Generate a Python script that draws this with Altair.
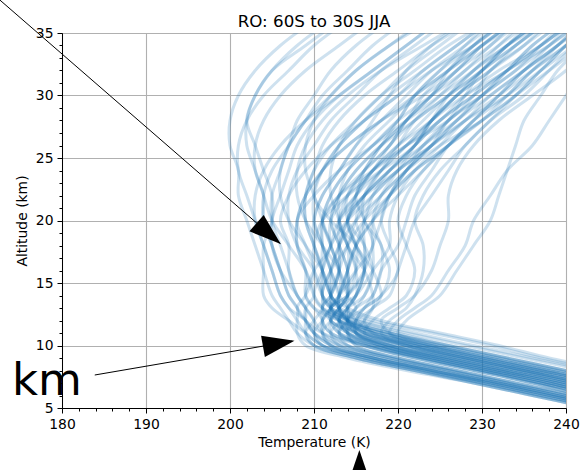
import altair as alt
import pandas as pd

# Altitude levels (km) shared by all profiles
ALT = [5, 6, 7, 8, 9, 10, 11, 12, 13, 14, 16, 18, 20, 22, 24, 26, 28, 30, 32, 34, 36]

# Temperature profiles (K), one list per radio-occultation profile
A1 = [262, 257, 251, 245, 238, 232, 225, 218, 214, 212, 213, 214, 216, 219, 222, 226, 229, 233, 236, 240, 244]
A2 = [260, 255, 249, 243, 236, 229, 222, 216, 212, 211, 212, 214, 215, 217, 220, 224, 228, 231, 235, 239, 243]
A3 = [258, 253, 247, 240, 233, 226, 219, 214, 211, 212, 213, 213, 214, 216, 219, 222, 225, 229, 233, 237, 241]
A4 = [257, 251, 245, 238, 231, 224, 217, 213, 212, 213, 215, 214, 213, 215, 218, 221, 224, 227, 231, 235, 238]
A5 = [259, 254, 248, 242, 235, 228, 221, 215, 211, 210, 211, 212, 213, 216, 220, 223, 227, 230, 233, 236, 240]
A6 = [256, 250, 244, 237, 230, 223, 216, 212, 213, 214, 216, 217, 218, 219, 221, 224, 226, 230, 234, 238, 242]
A7 = [261, 256, 250, 244, 237, 231, 224, 217, 213, 211, 212, 213, 215, 218, 221, 225, 230, 234, 238, 242, 246]
A8 = [255, 249, 243, 236, 229, 222, 215, 212, 212, 214, 215, 215, 214, 216, 219, 222, 224, 227, 230, 233, 236]
B1 = [254, 248, 242, 235, 228, 221, 215, 213, 214, 215, 216, 216, 215, 216, 218, 220, 222, 225, 228, 232, 236]
B2 = [252, 246, 240, 233, 226, 219, 214, 213, 214, 216, 217, 216, 214, 214, 216, 219, 221, 224, 227, 231, 234]
B3 = [250, 244, 238, 231, 224, 218, 215, 216, 217, 217, 216, 214, 213, 214, 216, 218, 221, 223, 226, 229, 232]
B4 = [253, 247, 241, 234, 227, 220, 215, 215, 216, 218, 219, 218, 217, 218, 220, 222, 224, 227, 231, 234, 238]
B5 = [249, 243, 237, 230, 223, 217, 214, 214, 215, 214, 213, 212, 211, 212, 214, 217, 220, 222, 225, 228, 231]
B6 = [251, 245, 239, 232, 225, 218, 213, 212, 213, 214, 214, 213, 212, 213, 215, 218, 222, 226, 230, 233, 237]
B7 = [248, 242, 236, 229, 222, 216, 213, 214, 216, 218, 220, 219, 218, 219, 221, 224, 227, 230, 234, 237, 240]
B8 = [254, 249, 243, 236, 229, 222, 216, 214, 215, 217, 218, 220, 221, 222, 224, 226, 229, 232, 235, 238, 241]
B9 = [250, 244, 238, 231, 224, 217, 212, 211, 212, 213, 212, 211, 211, 213, 216, 219, 221, 224, 226, 229, 233]
B10 = [252, 246, 240, 233, 226, 219, 214, 212, 211, 212, 213, 213, 213, 215, 217, 220, 223, 226, 229, 232, 235]
C1 = [244, 237, 230, 222, 215, 210, 209, 210, 211, 211, 210, 208, 207, 207, 208, 210, 212, 215, 218, 222, 226]
C2 = [246, 239, 232, 225, 218, 213, 212, 213, 213, 212, 211, 210, 209, 209, 210, 212, 215, 218, 221, 225, 229]
C3 = [243, 236, 229, 221, 214, 209, 208, 208, 208, 207, 206, 205, 204, 204, 205, 207, 209, 212, 215, 219, 223]
C4 = [247, 240, 233, 226, 219, 214, 213, 214, 214, 213, 212, 211, 210, 211, 213, 215, 218, 221, 224, 228, 232]
C5 = [245, 238, 231, 223, 216, 211, 210, 210, 209, 208, 207, 206, 205, 205, 206, 207, 209, 211, 214, 217, 221]
C6 = [248, 241, 234, 227, 220, 215, 214, 214, 213, 212, 211, 211, 211, 212, 214, 217, 220, 224, 228, 231, 235]
C7 = [244, 237, 230, 223, 216, 211, 210, 211, 212, 212, 211, 209, 207, 206, 206, 207, 208, 210, 212, 215, 219]
C8 = [246, 239, 232, 224, 217, 212, 211, 212, 213, 214, 214, 213, 212, 213, 215, 218, 221, 224, 227, 230, 234]
D1 = [243, 236, 229, 222, 215, 210, 208, 207, 206, 205, 204, 203, 202, 201, 201, 200, 200, 201, 203, 206, 210]
D2 = [245, 238, 231, 224, 217, 212, 210, 209, 208, 207, 206, 205, 204, 204, 203, 203, 204, 206, 209, 213, 217]
D3 = [244, 237, 230, 223, 216, 211, 209, 208, 207, 206, 205, 204, 203, 202, 201, 201, 202, 204, 207, 210, 214]
D4 = [246, 239, 232, 224, 217, 211, 209, 207, 205, 204, 204, 204, 205, 205, 204, 203, 202, 203, 205, 208, 212]
E1 = [253, 247, 241, 234, 227, 221, 218, 219, 221, 222, 223, 223, 222, 223, 225, 228, 231, 235, 238, 241, 244]
E2 = [255, 249, 243, 236, 229, 223, 219, 218, 220, 222, 224, 225, 226, 226, 227, 229, 232, 236, 240, 243, 246]
E3 = [251, 245, 239, 232, 225, 219, 216, 217, 219, 221, 222, 221, 220, 221, 223, 226, 230, 234, 237, 240, 243]
F1 = [257, 252, 246, 239, 232, 225, 218, 213, 210, 209, 210, 212, 211, 213, 217, 221, 225, 228, 232, 237, 241]
F2 = [253, 247, 241, 235, 228, 221, 216, 214, 213, 213, 215, 217, 216, 215, 217, 221, 226, 229, 231, 235, 239]
F3 = [249, 243, 237, 230, 223, 217, 213, 212, 212, 214, 216, 215, 212, 210, 211, 214, 218, 223, 227, 230, 234]
F4 = [247, 241, 234, 227, 220, 215, 214, 215, 217, 218, 217, 215, 214, 216, 219, 223, 226, 228, 230, 233, 237]
F5 = [245, 238, 231, 224, 217, 212, 211, 211, 210, 209, 209, 208, 208, 209, 211, 213, 216, 220, 223, 227, 231]
F6 = [256, 251, 245, 238, 231, 224, 218, 214, 213, 215, 217, 219, 219, 220, 222, 225, 228, 232, 236, 240, 243]
F7 = [251, 245, 239, 232, 225, 219, 215, 213, 212, 211, 210, 210, 211, 214, 218, 222, 224, 226, 229, 233, 238]
F8 = [258, 252, 246, 239, 232, 225, 219, 214, 212, 212, 213, 212, 212, 214, 217, 219, 222, 226, 230, 234, 238]
F9 = [246, 240, 233, 226, 219, 214, 212, 212, 213, 214, 213, 211, 209, 208, 208, 209, 211, 214, 218, 223, 228]
F10 = [250, 244, 238, 231, 224, 218, 215, 215, 216, 217, 218, 218, 216, 216, 218, 221, 224, 228, 233, 237, 241]
F11 = [254, 248, 242, 235, 228, 222, 217, 215, 214, 214, 214, 215, 217, 219, 221, 223, 226, 230, 233, 236, 240]
F12 = [243, 236, 229, 222, 215, 210, 209, 209, 209, 208, 206, 205, 205, 206, 207, 208, 210, 213, 217, 221, 225]
F13 = [259, 253, 247, 240, 233, 226, 220, 215, 212, 211, 211, 212, 214, 217, 220, 224, 227, 231, 235, 239, 242]
F14 = [252, 246, 240, 233, 226, 220, 216, 214, 213, 212, 212, 213, 214, 215, 216, 218, 220, 222, 225, 229, 233]
F15 = [248, 242, 236, 229, 222, 216, 213, 213, 214, 215, 215, 214, 213, 213, 214, 216, 219, 222, 226, 230, 235]
G1 = [250, 244, 237, 230, 223, 216, 211, 209, 208, 209, 210, 209, 208, 210, 213, 217, 221, 225, 229, 233, 237]
G2 = [256, 250, 244, 237, 230, 223, 217, 213, 211, 210, 209, 208, 208, 209, 211, 214, 218, 222, 226, 230, 234]
G3 = [247, 241, 234, 227, 220, 214, 211, 210, 209, 208, 207, 207, 206, 207, 209, 212, 216, 220, 224, 229, 233]
G4 = [253, 247, 241, 234, 227, 221, 217, 216, 217, 219, 220, 221, 222, 224, 226, 228, 231, 234, 237, 240, 243]
G5 = [249, 243, 237, 230, 223, 217, 214, 213, 213, 212, 211, 210, 210, 211, 213, 215, 217, 219, 221, 224, 228]
G6 = [255, 250, 244, 237, 230, 223, 217, 214, 214, 215, 216, 216, 216, 218, 221, 224, 228, 233, 237, 241, 245]
G7 = [244, 238, 231, 224, 217, 212, 210, 209, 207, 206, 205, 204, 203, 203, 204, 206, 209, 213, 217, 221, 225]
G8 = [251, 245, 239, 232, 225, 218, 214, 213, 213, 213, 214, 214, 213, 212, 212, 213, 215, 218, 222, 226, 231]
G9 = [258, 253, 247, 240, 233, 226, 219, 214, 212, 213, 214, 215, 216, 217, 219, 222, 225, 229, 233, 238, 242]
G10 = [246, 240, 233, 226, 219, 213, 210, 209, 209, 210, 209, 207, 205, 204, 203, 202, 202, 203, 205, 209, 213]
G11 = [252, 246, 240, 233, 226, 219, 215, 214, 215, 216, 217, 217, 217, 219, 222, 226, 230, 233, 236, 239, 242]
G12 = [248, 242, 236, 229, 222, 216, 212, 211, 211, 211, 211, 210, 209, 209, 210, 211, 213, 216, 220, 224, 229]
G13 = [254, 248, 242, 235, 228, 221, 216, 213, 212, 212, 212, 211, 210, 210, 211, 213, 216, 219, 223, 227, 231]
G14 = [245, 239, 232, 225, 218, 213, 211, 211, 212, 213, 213, 212, 211, 210, 209, 209, 210, 212, 215, 219, 224]
G15 = [257, 251, 245, 238, 231, 224, 218, 214, 213, 213, 214, 215, 217, 220, 223, 226, 229, 232, 235, 239, 243]
G16 = [250, 244, 238, 231, 224, 218, 215, 214, 214, 215, 216, 215, 214, 215, 217, 220, 224, 227, 230, 234, 238]
H1 = [256, 250, 244, 237, 230, 224, 220, 221, 223, 225, 227, 229, 231, 232, 233, 234, 235, 237, 239, 242, 245]
H2 = [254, 248, 242, 235, 228, 222, 219, 220, 222, 224, 226, 228, 229, 231, 233, 236, 238, 240, 242, 244, 247]

PROFILES = {
    "A1": A1, "A2": A2, "A3": A3, "A4": A4, "A5": A5, "A6": A6, "A7": A7, "A8": A8,
    "B1": B1, "B2": B2, "B3": B3, "B4": B4, "B5": B5, "B6": B6, "B7": B7, "B8": B8,
    "B9": B9, "B10": B10,
    "C1": C1, "C2": C2, "C3": C3, "C4": C4, "C5": C5, "C6": C6, "C7": C7, "C8": C8,
    "D1": D1, "D2": D2, "D3": D3, "D4": D4,
    "E1": E1, "E2": E2, "E3": E3,
    "F1": F1, "F2": F2, "F3": F3, "F4": F4, "F5": F5, "F6": F6, "F7": F7, "F8": F8,
    "F9": F9, "F10": F10, "F11": F11, "F12": F12, "F13": F13, "F14": F14, "F15": F15,
    "G1": G1, "G2": G2, "G3": G3, "G4": G4, "G5": G5, "G6": G6, "G7": G7, "G8": G8,
    "G9": G9, "G10": G10, "G11": G11, "G12": G12, "G13": G13, "G14": G14, "G15": G15,
    "G16": G16,
    "H1": H1, "H2": H2,
}

X_MINOR = [180 + 2 * i for i in range(31)]
Y_MINOR = [5 + 0.5 * i for i in range(61)]

TITLE = "RO: 60S to 30S JJA"

rows = []
for pid, temps in PROFILES.items():
    for a, t in zip(ALT, temps):
        rows.append({"pid": pid, "alt": a, "T": t})
df = pd.DataFrame(rows)

# Annotation anchors (data coordinates: K, km)
arrow_lines = pd.DataFrame({
    "T": [172.6, 183.9],
    "alt": [37.64, 7.64],
    "T2": [206.0, 207.4],
    "alt2": [18.15, 10.35],
})
arrow_heads = pd.DataFrame({
    "T": [204.6, 205.8, 215.4],
    "alt": [18.95, 10.15, 0.36],
    "ang": [131, 80, 0],
})
label_df = pd.DataFrame({"T": [174.05], "alt": [6.04], "txt": ["km"]})
title_df = pd.DataFrame({"T": [210.0], "alt": [35.5], "txt": [TITLE]})

FONT = "DejaVu Sans"
BLUE = "#1f77b4"

xscale = alt.Scale(domain=[180, 240], nice=False, zero=False)
yscale = alt.Scale(domain=[5, 35], nice=False, zero=False)

xaxis = alt.Axis(
    values=X_MINOR,
    tickCount=200,
    format="d",
    labelExpr="datum.value % 10 === 0 ? datum.label : ''",
    tickSize={"condition": {"test": "datum.value % 10 === 0", "value": 5}, "value": 3},
    gridOpacity={"condition": {"test": "datum.value % 10 === 0", "value": 1}, "value": 0},
    grid=True,
    labelFlush=False,
    labelOverlap=False,
    labelPadding=4,
    title="Temperature (K)",
    titlePadding=5,
)
yaxis = alt.Axis(
    values=Y_MINOR,
    tickCount=200,
    format="d",
    labelExpr="datum.value % 5 === 0 ? datum.label : ''",
    tickSize={"condition": {"test": "datum.value % 5 === 0", "value": 5}, "value": 3},
    gridOpacity={"condition": {"test": "datum.value % 5 === 0", "value": 1}, "value": 0},
    grid=True,
    labelFlush=False,
    labelOverlap=False,
    labelPadding=4,
    title="Altitude (km)",
    titlePadding=6,
)

lines = alt.Chart(df).mark_line(
    clip=True, interpolate="catmull-rom", strokeWidth=3, opacity=0.22, color=BLUE
).encode(
    x=alt.X("T:Q", scale=xscale, axis=xaxis),
    y=alt.Y("alt:Q", scale=yscale, axis=yaxis),
    detail="pid:N",
    order="alt:Q",
)

arr_lines = alt.Chart(arrow_lines).mark_rule(color="black", strokeWidth=1, clip=False).encode(
    x="T:Q", y="alt:Q", x2="T2:Q", y2="alt2:Q"
)

arr_heads = alt.Chart(arrow_heads).mark_point(
    shape="M0,-1L0.68,1L-0.68,1Z", filled=True, color="black", opacity=1,
    size=1024, strokeWidth=0, clip=False
).encode(
    x="T:Q", y="alt:Q", angle=alt.Angle("ang:Q", scale=None)
)

km_text = alt.Chart(label_df).mark_text(
    font=FONT, fontSize=45, align="left", baseline="alphabetic", color="black", clip=False
).encode(x="T:Q", y="alt:Q", text="txt:N")

title_text = alt.Chart(title_df).mark_text(
    font=FONT, fontSize=16.7, align="center", baseline="alphabetic", color="black", clip=False
).encode(x="T:Q", y="alt:Q", text="txt:N")

chart = alt.layer(lines, arr_lines, arr_heads, km_text, title_text).properties(
    width=504,
    height=375,
    autosize=alt.AutoSizeParams(type="none"),
    padding={"left": 62, "top": 33, "right": 17, "bottom": 62},
).configure(
    font=FONT,
).configure_view(
    stroke="black", strokeWidth=1
).configure_axis(
    labelFont=FONT, labelFontSize=13.9, labelColor="black",
    titleFont=FONT, titleFontSize=13.9, titleFontWeight="normal", titleColor="black",
    tickColor="black", tickWidth=1, domainColor="black", domainWidth=1,
    gridColor="#b0b0b0", gridWidth=1.1,
)

chart.save("out.html", embed_options={"renderer": "svg", "actions": False})
